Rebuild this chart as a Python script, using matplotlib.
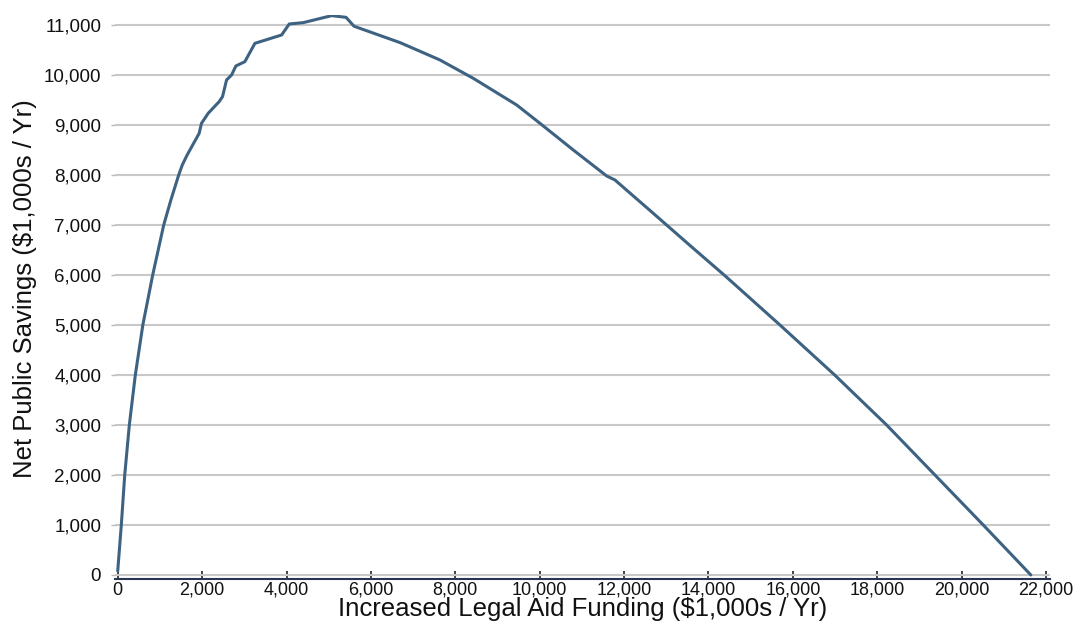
import matplotlib
matplotlib.use("Agg")
import matplotlib.pyplot as plt
from matplotlib.ticker import FuncFormatter, FixedLocator

plt.rcParams['font.family'] = ['Liberation Sans', 'DejaVu Sans']

# Increased legal aid funding ($1,000s / Yr)
funding = [0, 85, 166, 275, 417, 595, 829, 1090, 1260, 1445, 1530, 1645, 1930,
           1985, 2143, 2404, 2484, 2579, 2698, 2800, 3014, 3251, 3884, 4065,
           4397, 5071, 5411, 5600, 6692, 7637, 8427, 9455, 10007, 10796, 11588,
           11784, 12692, 13640, 14391, 15694, 16991, 18222, 19367, 20512, 21640]
# Net public savings ($1,000s / Yr)
savings = [80, 1000, 2000, 3000, 4000, 5000, 6000, 7000, 7500, 8000, 8200, 8400,
           8833, 9033, 9233, 9467, 9567, 9900, 10000, 10180, 10267, 10633, 10800,
           11020, 11047, 11187, 11153, 10975, 10647, 10300, 9933, 9400, 9033,
           8500, 7980, 7900, 7233, 6533, 5985, 5000, 4000, 3000, 2000, 1000, 0]

x_ticks = list(range(0, 22001, 2000))
y_ticks = list(range(0, 11001, 1000))
x_label = "Increased Legal Aid Funding ($1,000s / Yr)"
y_label = "Net Public Savings ($1,000s / Yr)"

fig = plt.figure(figsize=(10.75, 6.27), dpi=100)
ax = fig.add_axes([0.107, 0.0766, 0.8697, 0.8995])

ax.plot(funding, savings, color='#3e6282', lw=2.2, solid_joinstyle='round',
        solid_capstyle='round', zorder=3)

ax.set_xlim(-64, 22093)
ax.set_ylim(-80, 11200)

ax.xaxis.set_major_locator(FixedLocator(x_ticks))
ax.yaxis.set_major_locator(FixedLocator(y_ticks))
fmt = FuncFormatter(lambda v, p: f"{int(v):,}")
ax.xaxis.set_major_formatter(fmt)
ax.yaxis.set_major_formatter(fmt)

ax.grid(axis='y', color='#c8c8c8', lw=1.5, zorder=0)
ax.set_axisbelow(True)

for s in ['left', 'right', 'top']:
    ax.spines[s].set_visible(False)
ax.spines['bottom'].set_color('#2b3553')
ax.spines['bottom'].set_linewidth(1.5)

ax.tick_params(axis='x', direction='in', length=6, width=1.2, color='#222222',
               labelsize=13, pad=2, labelcolor='#111111')
ax.tick_params(axis='y', direction='out', length=3, width=1, color='#bbbbbb',
               labelsize=13.5, pad=7, labelcolor='#111111')

ax.set_xlabel(x_label, fontsize=18.5, color='#111111', labelpad=-1)
ax.set_ylabel(y_label, fontsize=18.5, color='#111111', labelpad=9)
ax.yaxis.set_label_coords(-0.083, 0.515)

fig.savefig("out.png", dpi=100)
